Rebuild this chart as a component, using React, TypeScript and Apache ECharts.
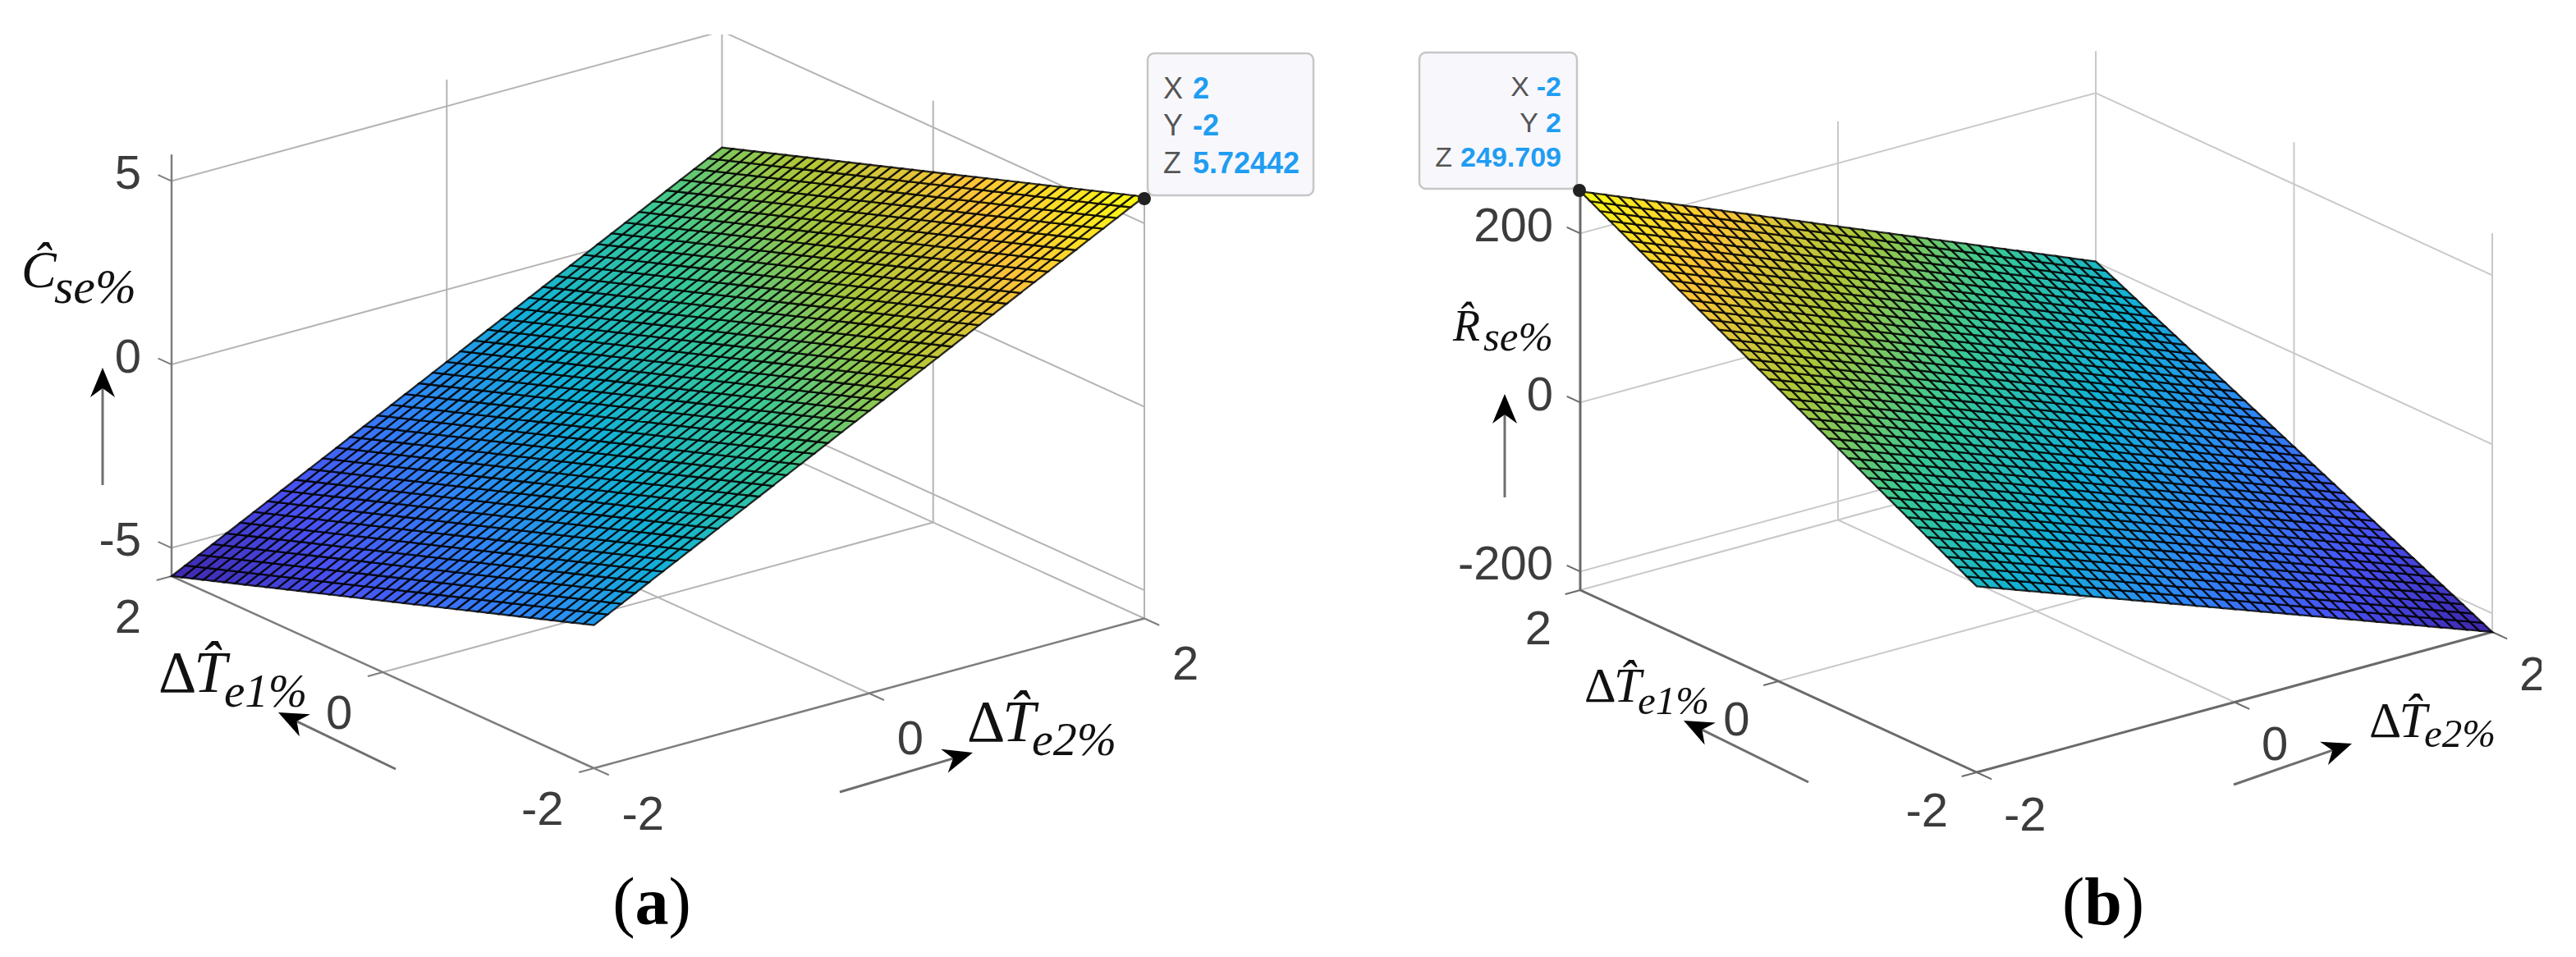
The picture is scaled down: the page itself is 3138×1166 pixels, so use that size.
import React, { useEffect, useRef } from "react";
import * as echarts from "echarts";

// Mesh nodes on the two horizontal axes (surface has 40 x 40 cells).
const xNodes = [-2,-1.9,-1.8,-1.7,-1.6,-1.5,-1.4,-1.3,-1.2,-1.1,-1,-0.9,-0.8,-0.7,-0.6,-0.5,-0.4,-0.3,-0.2,-0.1,0,0.1,0.2,0.3,0.4,0.5,0.6,0.7,0.8,0.9,1,1.1,1.2,1.3,1.4,1.5,1.6,1.7,1.8,1.9,2];
const yNodes = xNodes;

// Surface heights on the edges y = -2 and y = 2, per x node. Only the end values of each
// array were estimated from the picture (or taken from the data tips); the values between
// them are even steps, because single mesh nodes cannot be read from the picture.
const cseAtYLow = [-1.87,-1.68,-1.49,-1.30,-1.11,-0.92,-0.73,-0.54,-0.35,-0.16,0.03,0.22,0.41,0.60,0.79,0.98,1.17,1.36,1.55,1.74,1.93,2.12,2.31,2.50,2.69,2.88,3.07,3.26,3.45,3.64,3.83,4.02,4.21,4.40,4.59,4.78,4.97,5.16,5.35,5.54,5.72442];
const cseAtYHigh = [-5.77,-5.58,-5.39,-5.20,-5.01,-4.82,-4.63,-4.44,-4.25,-4.06,-3.87,-3.68,-3.49,-3.30,-3.11,-2.92,-2.73,-2.54,-2.35,-2.16,-1.97,-1.78,-1.59,-1.40,-1.21,-1.02,-0.83,-0.64,-0.45,-0.26,-0.07,0.12,0.31,0.50,0.69,0.88,1.07,1.26,1.45,1.64,1.83];
const rseAtYLow = [-2,-7.5,-13,-18.5,-24,-29.5,-35,-40.5,-46,-51.5,-57,-62.5,-68,-73.5,-79,-84.5,-90,-95.5,-101,-106.5,-112,-117.5,-123,-128.5,-134,-139.5,-145,-150.5,-156,-161.5,-167,-172.5,-178,-183.5,-189,-194.5,-200,-205.5,-211,-216.5,-222];
const rseAtYHigh = [249.709,243.5,237.3,231,224.8,218.6,212.4,206.1,199.9,193.7,187.5,181.2,175,168.8,162.6,156.3,150.1,143.9,137.7,131.4,125.2,119,112.8,106.5,100.3,94.1,87.9,81.6,75.4,69.2,63,56.7,50.5,44.3,38.1,31.8,25.6,19.4,13.2,6.9,0.7];

// Tick labels
const xyTicks = [-2, 0, 2];
const cseZTicks = [-5, 0, 5];
const rseZTicks = [-200, 0, 200];

// Data tips
const tipA = { x: 2, y: -2, z: 5.72442 };
const tipB = { x: -2, y: 2, z: 249.709 };

// Colour map stops (parula)
const parulaStops = [[62,38,168],[72,82,244],[46,135,247],[18,177,214],[55,200,151],[171,199,57],[254,195,56],[249,251,21]];

const panelA = {
  A: [209, 702], B: [723.5, 936], C: [1394, 753.5], zBottom: -5.77, zTop: 5.72442, zScale: 44.7,
  zTicks: cseZTicks, low: cseAtYLow, high: cseAtYHigh,
  zLabelX: 172, yLabel: [-37, 48], xLabel: [34, 54], axisColor: "#7d7d7d", axisWidth: 2.5, gridColor: "#b4b4b4", xAxisIndex: 0,
};
const panelB = {
  A: [1925, 719], B: [2408, 941], C: [3036, 770], zBottom: -222, zTop: 249.709, zScale: 1.03,
  zTicks: rseZTicks, low: rseAtYLow, high: rseAtYHigh,
  zLabelX: 1892, yLabel: [-35, 45], xLabel: [33, 50], axisColor: "#6a6a6a", axisWidth: 3, gridColor: "#c9c9c9", xAxisIndex: 1,
};

const project = (p: any, x: number, y: number, z: number) => {
  const u = (x + 2) / 4, v = (y + 2) / 4;
  return [
    p.B[0] + u * (p.C[0] - p.B[0]) + v * (p.A[0] - p.B[0]),
    p.B[1] + u * (p.C[1] - p.B[1]) + v * (p.A[1] - p.B[1]) - (z - p.zBottom) * p.zScale,
  ];
};

// Inner mesh nodes are interpolated between the two edge arrays.
const heightAt = (p: any, i: number, j: number) => {
  const t = (yNodes[j] + 2) / 4;
  return p.low[i] * (1 - t) + p.high[i] * t;
};

const colorOf = (t: number) => {
  const s = Math.max(0, Math.min(0.99999, t)) * (parulaStops.length - 1);
  const k = Math.floor(s), f = s - k, a = parulaStops[k], b = parulaStops[k + 1];
  return `rgb(${a.map((c, n) => Math.round(c + (b[n] - c) * f)).join(",")})`;
};

const surfaceSeries = (p: any) => {
  const data: number[][] = [];
  for (let i = 0; i < xNodes.length - 1; i++) for (let j = 0; j < yNodes.length - 1; j++) data.push([i, j]);
  return {
    type: "custom", coordinateSystem: "cartesian2d", xAxisIndex: p.xAxisIndex, yAxisIndex: p.xAxisIndex, z: 3, silent: true,
    clip: false, data, encode: { x: 0, y: 1 },
    renderItem: (_: any, api: any) => {
      const i = api.value(0), j = api.value(1);
      const nodes = [[i, j], [i + 1, j], [i + 1, j + 1], [i, j + 1]];
      let sum = 0;
      const points = nodes.map(([a, b]) => {
        const z = heightAt(p, a, b);
        sum += z;
        return api.coord(project(p, xNodes[a], yNodes[b], z));
      });
      const t = (sum / 4 - p.zBottom) / (p.zTop - p.zBottom);
      return { type: "polygon", shape: { points }, style: { fill: colorOf(t), stroke: "rgba(0,0,0,0.82)", lineWidth: 2.3 } };
    },
  };
};

const frameSeries = (p: any) => {
  const [lo, mid, hi] = xyTicks;
  const zb = p.zBottom, zt = p.zTop;
  const lines: any[] = [];
  const add = (a: number[], b: number[], color: string, w: number) => lines.push({ a, b, color, w });
  // walls' horizontal grid lines
  p.zTicks.forEach((z: number) => {
    add([lo, hi, z], [hi, hi, z], p.gridColor, 2);
    add([hi, hi, z], [hi, lo, z], p.gridColor, 2);
  });
  // walls' vertical grid lines
  add([mid, hi, zb], [mid, hi, zt], p.gridColor, 2);
  add([hi, hi, zb], [hi, hi, zt], p.gridColor, 2);
  add([hi, mid, zb], [hi, mid, zt], p.gridColor, 2);
  add([hi, lo, zb], [hi, lo, zt], p.gridColor, 2);
  // floor grid lines
  add([mid, lo, zb], [mid, hi, zb], p.gridColor, 2);
  add([lo, mid, zb], [hi, mid, zb], p.gridColor, 2);
  add([lo, hi, zb], [hi, hi, zb], p.gridColor, 2);
  add([hi, lo, zb], [hi, hi, zb], p.gridColor, 2);
  // axes
  add([lo, hi, zb], [lo, hi, zt], p.axisColor, p.axisWidth);
  add([lo, hi, zb], [lo, lo, zb], p.axisColor, p.axisWidth);
  add([lo, lo, zb], [hi, lo, zb], p.axisColor, p.axisWidth);
  return {
    type: "custom", coordinateSystem: "cartesian2d", xAxisIndex: p.xAxisIndex, yAxisIndex: p.xAxisIndex, z: 1, silent: true,
    clip: false, data: lines.map((_, n) => [n, n]), encode: { x: 0, y: 1 },
    renderItem: (params: any, api: any) => {
      const l = lines[params.dataIndex];
      const a = api.coord(project(p, l.a[0], l.a[1], l.a[2]));
      const b = api.coord(project(p, l.b[0], l.b[1], l.b[2]));
      return { type: "line", shape: { x1: a[0], y1: a[1], x2: b[0], y2: b[1] }, style: { stroke: l.color, lineWidth: l.w } };
    },
  };
};

const tickFont = { fontFamily: "Liberation Sans", fontSize: 58, fill: "#3c3c3c" };

const tickSeries = (p: any) => {
  const unit = (a: number[], b: number[], len: number) => {
    const dx = b[0] - a[0], dy = b[1] - a[1], n = Math.hypot(dx, dy);
    return [(dx / n) * len, (dy / n) * len];
  };
  const alongY = unit(p.C, p.B, 19);  // ticks of the y axis
  const alongX = unit(p.A, p.B, 20);  // ticks of the x axis
  const alongZ = unit(p.B, p.A, 18);  // ticks of the z axis
  const items: any[] = [];
  xyTicks.forEach((v) => {
    items.push({ anchor: [-2, v, p.zBottom], tick: alongY, label: String(v), off: p.yLabel, align: "right" });
    items.push({ anchor: [v, -2, p.zBottom], tick: alongX, label: String(v), off: p.xLabel, align: "left" });
  });
  p.zTicks.forEach((v: number) => {
    items.push({ anchor: [-2, 2, v], tick: alongZ, label: String(v), labelX: p.zLabelX, off: [0, -11], align: "right" });
  });
  return {
    type: "custom", coordinateSystem: "cartesian2d", xAxisIndex: p.xAxisIndex, yAxisIndex: p.xAxisIndex, z: 2, silent: true,
    clip: false, data: items.map((_, n) => [n, n]), encode: { x: 0, y: 1 },
    renderItem: (params: any, api: any) => {
      const it = items[params.dataIndex];
      const a = api.coord(project(p, it.anchor[0], it.anchor[1], it.anchor[2]));
      return {
        type: "group",
        children: [
          { type: "line", shape: { x1: a[0], y1: a[1], x2: a[0] + it.tick[0], y2: a[1] + it.tick[1] }, style: { stroke: p.axisColor, lineWidth: 2 } },
          {
            type: "text",
            style: { ...tickFont, text: it.label, x: it.labelX !== undefined ? it.labelX : a[0] + it.off[0], y: a[1] + it.off[1], align: it.align, verticalAlign: "middle" },
          },
        ],
      };
    },
  };
};

const axes = [
  { min: 0, max: 1569, gridIndex: 0 },
  { min: 1569, max: 3138, gridIndex: 1 },
];

// --- annotations ---
const arrow = (from: number[], to: number[], z = 20) => {
  const dx = to[0] - from[0], dy = to[1] - from[1], n = Math.hypot(dx, dy);
  const ux = dx / n, uy = dy / n, L = 36, H = 15, N = 25;
  return [
    { type: "line", z, shape: { x1: from[0], y1: from[1], x2: to[0] - ux * N, y2: to[1] - uy * N }, style: { stroke: "#6e6e6e", lineWidth: 3 } },
    {
      type: "polygon", z,
      shape: {
        points: [
          to,
          [to[0] - ux * L - uy * H, to[1] - uy * L + ux * H],
          [to[0] - ux * N, to[1] - uy * N],
          [to[0] - ux * L + uy * H, to[1] - uy * L - ux * H],
        ],
      },
      style: { fill: "#000" },
    },
  ];
};

const serif = "Liberation Serif";
// "base" is the text's baseline; a central-aligned text sits 0.3375 em above it in this font.
const main = (text: string, x: number, base: number, size: number) => ({
  type: "text", z: 20,
  style: { text, x, y: base - size * 0.3375, fontFamily: serif, fontStyle: "italic", fontSize: size, fill: "#111", align: "left", verticalAlign: "middle" },
});
const delta = (x: number, base: number, size: number, sub: string, subX: number, subBase: number, subSize: number) => [
  { type: "text", z: 20, style: { text: "Δ", x, y: base - size * 0.3375, fontFamily: serif, fontSize: size, fill: "#111", align: "left", verticalAlign: "middle" } },
  main("T\u0302", x + size * 0.6, base, size),
  main(sub, subX, subBase, subSize),
];

const tipBox = (x: number, y: number, w: number, h: number) => ({
  type: "rect", z: 15, shape: { x, y, width: w, height: h, r: 8 }, style: { fill: "#f8f8fc", stroke: "#c6c6c6", lineWidth: 2.5 },
});
const tipLabel = (text: string, x: number, y: number, align: string, size: number) => ({
  type: "text", z: 16, style: { text, x, y, align, verticalAlign: "middle", fontFamily: "Liberation Sans", fontSize: size, fill: "#555" },
});
const tipValue = (text: string, x: number, y: number, align: string, size: number) => ({
  type: "text", z: 16, style: { text, x, y, align, verticalAlign: "middle", fontFamily: "Liberation Sans", fontWeight: "bold", fontSize: size, fill: "#1f9df2" },
});

const panelLabel = (letter: string, x: number, y: number) => ({
  type: "text", z: 20,
  style: {
    text: `{p|(}{b|${letter}}{p|)}`, x, y, align: "center", verticalAlign: "middle",
    rich: {
      p: { fontFamily: serif, fontSize: 82, fill: "#000" },
      b: { fontFamily: serif, fontSize: 82, fontWeight: "bold", fill: "#000" },
    },
  },
});

const graphicElements = [
  // white crops of the source picture
  { type: "rect", z: 10, shape: { x: 0, y: 0, width: 1569, height: 42 }, style: { fill: "#fff" } },
  { type: "rect", z: 10, shape: { x: 3096, y: 0, width: 42, height: 1166 }, style: { fill: "#fff" } },
  // panel (a) data tip
  tipBox(1398, 65, 202, 173),
  tipLabel("X", 1417, 107, "left", 36), tipValue(String(tipA.x), 1453, 107, "left", 36),
  tipLabel("Y", 1417, 152, "left", 36), tipValue(String(tipA.y), 1453, 152, "left", 36),
  tipLabel("Z", 1417, 198, "left", 36), tipValue(String(tipA.z), 1453, 198, "left", 36),
  { type: "circle", z: 17, shape: { cx: 1394, cy: 242, r: 8 }, style: { fill: "#222" } },
  // panel (b) data tip
  tipBox(1729, 64, 192, 166),
  tipLabel("X", 1863, 105, "right", 34), tipValue(String(tipB.x), 1902, 105, "right", 34),
  tipLabel("Y", 1874, 149, "right", 34), tipValue(String(tipB.y), 1902, 149, "right", 34),
  tipLabel("Z", 1769, 191, "right", 34), tipValue(String(tipB.z), 1902, 191, "right", 34),
  { type: "circle", z: 17, shape: { cx: 1924, cy: 232, r: 8 }, style: { fill: "#222" } },
  // arrows
  ...arrow([125, 591], [125, 448]),
  ...arrow([482, 937], [339, 868]),
  ...arrow([1023, 965], [1185, 917]),
  ...arrow([1833, 606], [1833, 480]),
  ...arrow([2203, 953], [2051, 878]),
  ...arrow([2721, 956], [2865, 906]),
  // axis titles
  main("Ĉ", 26, 350, 64), main("se%", 66, 369, 60),
  ...delta(193, 843, 72, "e1%", 273, 861, 57),
  ...delta(1178, 903, 72, "e2%", 1257, 920, 58),
  main("R\u0302", 1770, 415, 54), main("se%", 1807, 427, 51),
  ...delta(1930, 855, 60, "e1%", 1995, 870, 49),
  ...delta(2886, 898, 61, "e2%", 2953, 910, 49),
  // panel letters
  panelLabel("a", 794, 1098),
  panelLabel("b", 2562, 1098),
];

export default function App() {
  const ref = useRef<HTMLDivElement>(null);
  useEffect(() => {
    document.body.style.margin = "0";
    const chart = echarts.init(ref.current as HTMLDivElement, undefined, { renderer: "svg" });
    chart.setOption({
      animation: false,
      backgroundColor: "#fff",
      grid: [
        { left: 0, top: 0, width: 1569, height: 1166 },
        { left: 1569, top: 0, width: 1569, height: 1166 },
      ],
      xAxis: axes.map((a) => ({ type: "value", show: false, min: a.min, max: a.max, gridIndex: a.gridIndex })),
      yAxis: axes.map((a) => ({ type: "value", show: false, inverse: true, min: 0, max: 1166, gridIndex: a.gridIndex })),
      series: [
        frameSeries(panelA), tickSeries(panelA), surfaceSeries(panelA),
        frameSeries(panelB), tickSeries(panelB), surfaceSeries(panelB),
      ],
      graphic: { elements: graphicElements },
    });
    return () => chart.dispose();
  }, []);
  return <div ref={ref} style={{ width: 3138, height: 1166 }} />;
}
